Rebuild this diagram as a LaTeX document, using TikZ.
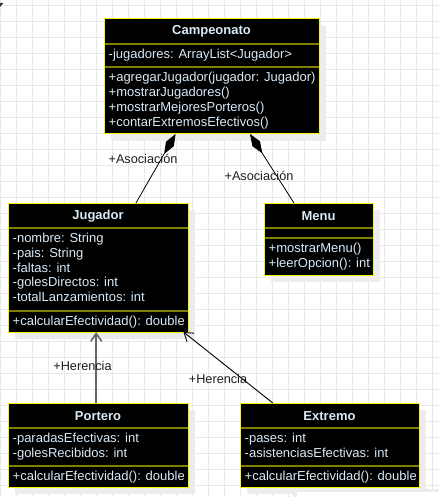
\documentclass[tikz,border=0pt]{standalone}
\usepackage{fontspec}
\setmainfont{Liberation Sans}
\usetikzlibrary{arrows.meta,calc,shadows}

\definecolor{gridline}{RGB}{232,232,232}
\definecolor{shadowgray}{RGB}{236,236,236}
\definecolor{boxline}{RGB}{245,245,0}
\definecolor{sepline}{RGB}{128,128,0}
\definecolor{classtext}{RGB}{216,234,248}
\definecolor{labeltext}{RGB}{30,30,30}

\tikzset{
  classbox/.style={draw=boxline, fill=black, line width=1pt, anchor=north west,
    inner sep=0pt, outer sep=0pt,
    drop shadow={shadow xshift=7pt, shadow yshift=-7pt, fill=shadowgray, opacity=1}},
  compsep/.style={draw=sepline, line width=1.4pt},
  classhead/.style={font=\bfseries\fontsize{13}{14.7}\selectfont, text=classtext, inner sep=0pt},
  members/.style={font=\fontsize{13}{14.7}\selectfont, text=classtext, align=left,
    anchor=north west, inner sep=0pt},
  rolelabel/.style={font=\fontsize{12.7}{14.7}\selectfont, text=labeltext, inner sep=0pt},
  aggregation/.style={draw=black, line width=0.8pt, -{Diamond[length=23pt,width=9pt]}},
  generalization/.style={line width=0.9pt, -{Straight Barb[length=8pt,width=11pt]}},
}

\begin{document}
\begin{tikzpicture}[x=1pt, y=-1pt]
  % canvas and grid
  \fill[white] (0,0) rectangle (439,497);
  \useasboundingbox (0,0) rectangle (439,497);
  \foreach \gx in {0.7,16.7,...,439} {\draw[gridline, line width=0.8pt] (\gx,0) -- (\gx,497);}
  \foreach \gy in {5,21,...,497} {\draw[gridline, line width=0.8pt] (0,\gy) -- (439,\gy);}
  \fill[black!80] (0,3) -- (3.5,3) -- (0,7) -- cycle;

  % Campeonato
  \node[classbox, minimum width=215pt, minimum height=115pt] (camp) at (104,19) {};
  \draw[compsep] ($(camp.north west)+(0.5,25)$) -- ($(camp.north east)+(-0.5,25)$);
  \draw[compsep] ($(camp.north west)+(0.5,48)$) -- ($(camp.north east)+(-0.5,48)$);
  \node[classhead] (camp-h) at ($(camp.north)+(0,12.7)$) {Campeonato};
  \node[members] (camp-a) at ($(camp.north west)+(4.5,29.2)$) {\strut-jugadores: ArrayList<Jugador>};
  \node[members] (camp-m) at ($(camp.north west)+(4.5,52.5)$)
    {\strut+agregarJugador(jugador: Jugador)\\\strut+mostrarJugadores()\\\strut+mostrarMejoresPorteros()\\\strut+contarExtremosEfectivos()};

  % Jugador
  \node[classbox, minimum width=180pt, minimum height=129pt] (jug) at (8,203) {};
  \draw[compsep] ($(jug.north west)+(0.5,25)$) -- ($(jug.north east)+(-0.5,25)$);
  \draw[compsep] ($(jug.north west)+(0.5,108)$) -- ($(jug.north east)+(-0.5,108)$);
  \node[classhead] (jug-h) at ($(jug.north)+(0,12.7)$) {Jugador};
  \node[members] (jug-a) at ($(jug.north west)+(4.5,29.2)$)
    {\strut-nombre: String\\\strut-pais: String\\\strut-faltas: int\\\strut-golesDirectos: int\\\strut-totalLanzamientos: int};
  \node[members] (jug-m) at ($(jug.north west)+(4.5,111.9)$) {\strut+calcularEfectividad(): double};

  % Menu
  \node[classbox, minimum width=109pt, minimum height=72pt] (menu) at (264,203) {};
  \draw[compsep] ($(menu.north west)+(0.5,25)$) -- ($(menu.north east)+(-0.5,25)$);
  \draw[compsep] ($(menu.north west)+(0.5,35)$) -- ($(menu.north east)+(-0.5,35)$);
  \node[classhead] (menu-h) at ($(menu.north)+(0,12.7)$) {Menu};
  \node[members] (menu-m) at ($(menu.north west)+(4.5,39.2)$)
    {\strut+mostrarMenu()\\\strut+leerOpcion(): int};

  % Portero
  \node[classbox, minimum width=180pt, minimum height=84pt] (port) at (8,403) {};
  \draw[compsep] ($(port.north west)+(0.5,25)$) -- ($(port.north east)+(-0.5,25)$);
  \draw[compsep] ($(port.north west)+(0.5,63)$) -- ($(port.north east)+(-0.5,63)$);
  \node[classhead] (port-h) at ($(port.north)+(0,12.7)$) {Portero};
  \node[members] (port-a) at ($(port.north west)+(4.5,28.9)$)
    {\strut-paradasEfectivas: int\\\strut-golesRecibidos: int};
  \node[members] (port-m) at ($(port.north west)+(4.5,66.9)$) {\strut+calcularEfectividad(): double};

  % Extremo
  \node[classbox, minimum width=179pt, minimum height=84pt] (ext) at (240,403) {};
  \draw[compsep] ($(ext.north west)+(0.5,25)$) -- ($(ext.north east)+(-0.5,25)$);
  \draw[compsep] ($(ext.north west)+(0.5,63)$) -- ($(ext.north east)+(-0.5,63)$);
  \node[classhead] (ext-h) at ($(ext.north)+(0,12.7)$) {Extremo};
  \node[members] (ext-a) at ($(ext.north west)+(4.5,28.9)$)
    {\strut-pases: int\\\strut-asistenciasEfectivas: int};
  \node[members] (ext-m) at ($(ext.north west)+(4.5,66.9)$) {\strut+calcularEfectividad(): double};

  % associations (aggregation diamonds at Campeonato)
  \draw[aggregation] ($(jug.north west)!0.711!(jug.north east)$) -- ($(camp.south west)!0.333!(camp.south east)$);
  \draw[aggregation] ($(menu.north west)!0.275!(menu.north east)$) -- ($(camp.south west)!0.679!(camp.south east)$);
  \node[rolelabel] (assoc1) at (143,159) {+Asociación};
  \node[rolelabel] (assoc2) at (259,176) {+Asociación};

  % inheritance
  \draw[generalization, draw=black!60, line width=1.6pt] ($(port.north west)!0.49!(port.north east)$) -- ($(jug.south west)!0.49!(jug.south east)$);
  \draw[generalization, draw=black] ($(ext.north west)!0.183!(ext.north east)$) -- ($(jug.south west)!0.975!(jug.south east)$);
  \node[rolelabel] (inh1) at (82.5,366) {+Herencia};
  \node[rolelabel] (inh2) at (218,379) {+Herencia};

  % panel edge at the lower right
  \fill[shadowgray] (293,489) rectangle (439,497);
  \fill[white] (297,491.5) rectangle (439,497);
\end{tikzpicture}
\end{document}
